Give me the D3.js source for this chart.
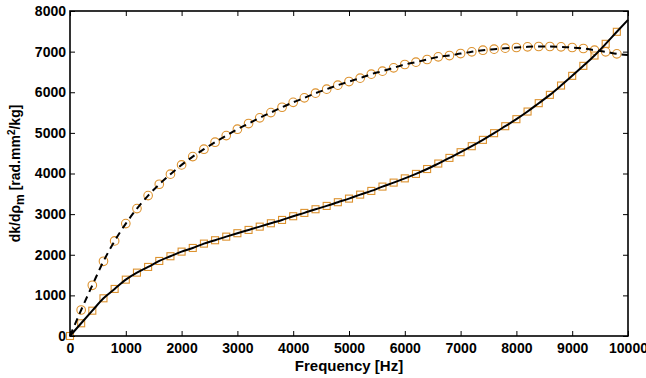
<!DOCTYPE html>
<html>
<head>
<meta charset="utf-8">
<script src="https://cdn.jsdelivr.net/npm/d3@7"></script>
<style>
  body { margin: 0; background: #fff; }
  text { font-family: "Liberation Sans", Arial, sans-serif; font-weight: bold; }
</style>
</head>
<body>
<div class="chart"></div>
<script>
// frequency grid of the markers (Hz)
var freqs = [0, 200, 400, 600, 800, 1000, 1200, 1400, 1600, 1800,
  2000, 2200, 2400, 2600, 2800, 3000, 3200, 3400, 3600, 3800,
  4000, 4200, 4400, 4600, 4800, 5000, 5200, 5400, 5600, 5800,
  6000, 6200, 6400, 6600, 6800, 7000, 7200, 7400, 7600, 7800,
  8000, 8200, 8400, 8600, 8800, 9000, 9200, 9400, 9600, 9800];

// solid curve, square markers
var lowerVals = [0, 313, 623, 928, 1158, 1387, 1560, 1700, 1847, 1963,
  2077, 2167, 2274, 2357, 2446, 2530, 2611, 2692, 2775, 2857,
  2948, 3030, 3120, 3202, 3293, 3382, 3480, 3571, 3678, 3776,
  3880, 3990, 4110, 4245, 4384, 4524, 4672, 4828, 4992, 5164,
  5337, 5525, 5731, 5936, 6165, 6404, 6650, 6904, 7192, 7488];

// dashed curve, circle markers (no marker at 0)
var upperVals = [0, 640, 1248, 1839, 2340, 2767, 3136, 3456, 3735, 3983,
  4212, 4417, 4598, 4770, 4934, 5090, 5230, 5370, 5500, 5631,
  5752, 5862, 5977, 6076, 6174, 6264, 6347, 6446, 6520, 6601,
  6683, 6741, 6806, 6872, 6904, 6953, 6995, 7035, 7061, 7085,
  7101, 7118, 7126, 7126, 7118, 7101, 7077, 7036, 6995, 6946];

// curves run on to the end of the axis
var endFreq = 10000;
var lowerEnd = 7780;
var upperEnd = 6915;

var xTicks = [0, 1000, 2000, 3000, 4000, 5000, 6000, 7000, 8000, 9000, 10000];
var yTicks = [0, 1000, 2000, 3000, 4000, 5000, 6000, 7000, 8000];

var svgWidth = 646;
var svgHeight = 378;
var margin = {top: 11, right: 18, bottom: 42, left: 70};
var width = svgWidth - margin.left - margin.right;
var height = svgHeight - margin.top - margin.bottom;
var orange = "#dd922e";

var svg = d3.select(".chart")
    .append("svg")
    .attr("width", svgWidth)
    .attr("height", svgHeight);
var chart = svg.append("g")
    .attr("transform", "translate(" + margin.left + "," + margin.top + ")");

var x = d3.scaleLinear().domain([0, 10000]).range([0, width]);
var y = d3.scaleLinear().domain([0, 8000]).range([height, 0]);

var lowerPts = freqs.map(function(f, i) { return [f, lowerVals[i]]; });
var upperPts = freqs.map(function(f, i) { return [f, upperVals[i]]; });

// markers first, lines drawn on top
chart.selectAll("rect.sq")
    .data(lowerPts)
    .enter()
    .append("rect")
    .attr("class", "sq")
    .attr("x", function(d) { return x(d[0]) - 3.5; })
    .attr("y", function(d) { return y(d[1]) - 3.5; })
    .attr("width", 7)
    .attr("height", 7)
    .attr("fill", "none")
    .attr("stroke", orange)
    .attr("stroke-width", 1.1);

chart.selectAll("circle.ci")
    .data(upperPts.filter(function(d) { return d[0] > 0; }))
    .enter()
    .append("circle")
    .attr("class", "ci")
    .attr("cx", function(d) { return x(d[0]); })
    .attr("cy", function(d) { return y(d[1]); })
    .attr("r", 4.3)
    .attr("fill", "none")
    .attr("stroke", orange)
    .attr("stroke-width", 1.1);

var line = d3.line()
    .x(function(d) { return x(d[0]); })
    .y(function(d) { return y(d[1]); })
    .curve(d3.curveMonotoneX);

chart.append("path")
    .datum(lowerPts.concat([[endFreq, lowerEnd]]))
    .attr("d", line)
    .attr("fill", "none")
    .attr("stroke", "#000")
    .attr("stroke-width", 2);

chart.append("path")
    .datum(upperPts.concat([[endFreq, upperEnd]]))
    .attr("d", line)
    .attr("fill", "none")
    .attr("stroke", "#000")
    .attr("stroke-width", 2)
    .attr("stroke-dasharray", "7,5");

// axes: ticks inward on all four sides
var fmt = d3.format("d");
var bottomAxis = d3.axisBottom(x).tickValues(xTicks).tickFormat(fmt).tickSizeInner(-5).tickSizeOuter(0).tickPadding(7);
var leftAxis = d3.axisLeft(y).tickValues(yTicks).tickFormat(fmt).tickSizeInner(-5).tickSizeOuter(0).tickPadding(4);
var topAxis = d3.axisTop(x).tickValues(xTicks).tickSizeInner(-5).tickSizeOuter(0).tickFormat("");
var rightAxis = d3.axisRight(y).tickValues(yTicks).tickSizeInner(-5).tickSizeOuter(0).tickFormat("");

function styleAxis(g) {
    g.select(".domain").remove();
    g.selectAll(".tick line").attr("stroke", "#000").attr("stroke-width", 1);
    g.selectAll(".tick text")
        .attr("fill", "#000")
        .style("font-size", "14px")
        .style("font-family", "Liberation Sans, Arial, sans-serif")
        .style("font-weight", "bold");
}

chart.append("g").attr("transform", "translate(0," + height + ")").call(bottomAxis).call(styleAxis);
chart.append("g").call(leftAxis).call(styleAxis);
chart.append("g").call(topAxis).call(styleAxis);
chart.append("g").attr("transform", "translate(" + width + ",0)").call(rightAxis).call(styleAxis);

chart.append("rect")
    .attr("x", 0)
    .attr("y", 0)
    .attr("width", width)
    .attr("height", height)
    .attr("fill", "none")
    .attr("stroke", "#000")
    .attr("stroke-width", 1.6);

// axis labels
chart.append("text")
    .attr("x", width / 2)
    .attr("y", height + 35)
    .attr("text-anchor", "middle")
    .style("font-size", "15px")
    .text("Frequency [Hz]");

var yLab = chart.append("text")
    .attr("transform", "translate(" + (-50) + "," + (height / 2) + ") rotate(-90)")
    .attr("text-anchor", "middle")
    .style("font-size", "14px");
yLab.append("tspan").text("dk/d\u03c1");
yLab.append("tspan").attr("dy", 4).style("font-size", "12px").text("m");
yLab.append("tspan").attr("dy", -4).text(" [rad.mm");
yLab.append("tspan").attr("dy", -5).style("font-size", "10px").text("2");
yLab.append("tspan").attr("dy", 5).text("/kg]");
</script>
</body>
</html>
